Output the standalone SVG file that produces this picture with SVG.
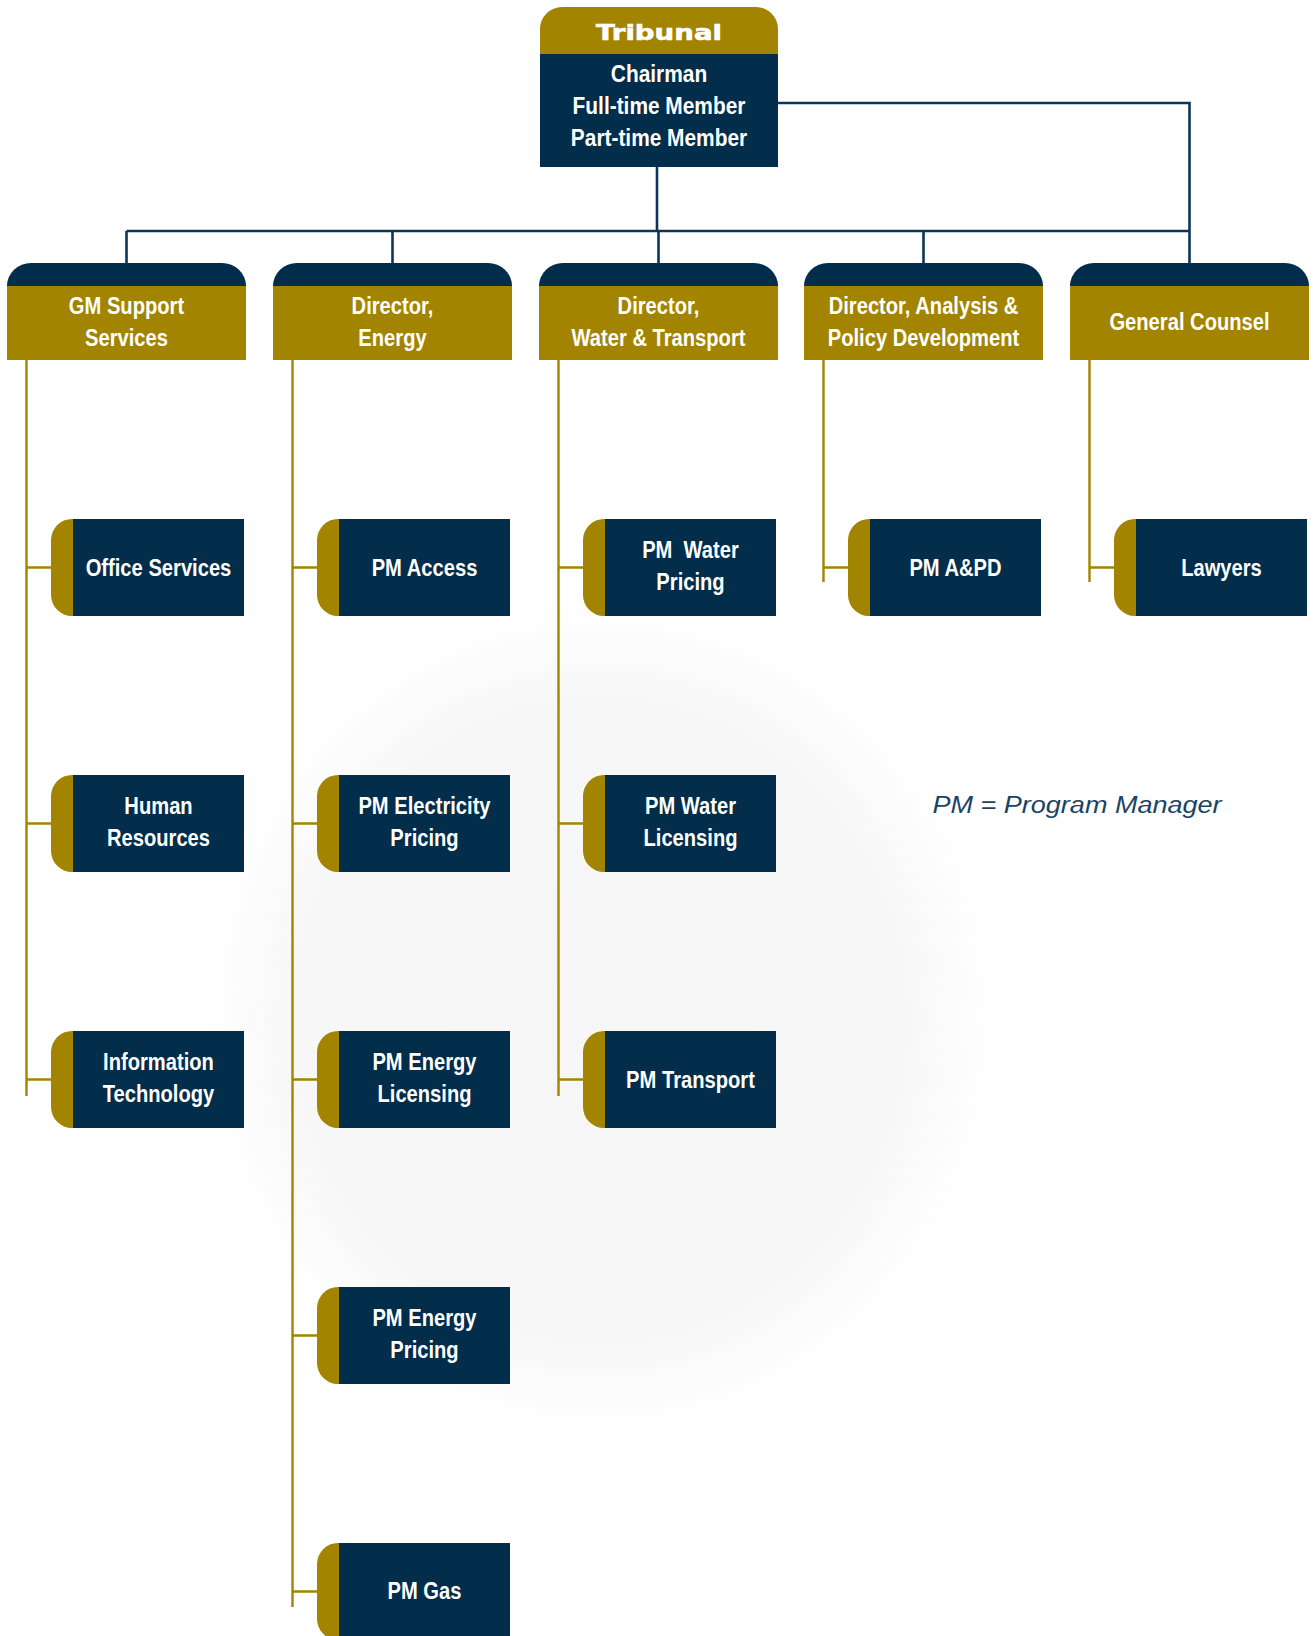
<svg xmlns="http://www.w3.org/2000/svg" width="1313" height="1636" viewBox="0 0 1313 1636">
<defs>
<radialGradient id="bg" cx="0.5" cy="0.5" r="0.5">
<stop offset="0" stop-color="#f6f6f6"/>
<stop offset="0.75" stop-color="#f7f7f7"/>
<stop offset="1" stop-color="#ffffff"/>
</radialGradient>
<style>
.navy{fill:#022d4b}
.gold{fill:#a38400}
.nl{stroke:#0c3656;stroke-width:2.6;fill:none}
.gl{stroke:#a38400;stroke-width:2.4;fill:none}
.t{font-family:"Liberation Sans",Arial,sans-serif;font-weight:bold;font-size:24px;fill:#ffffff;text-anchor:middle}
.trib{font-family:"DejaVu Sans","Liberation Sans",sans-serif;font-weight:bold;font-size:21px;fill:#ffffff;text-anchor:middle;stroke:#ffffff;stroke-width:0.6}
.note{font-family:"Liberation Sans",Arial,sans-serif;font-style:italic;font-size:23px;fill:#1a4466}
</style>
</defs>
<rect x="0" y="0" width="1313" height="1636" fill="#ffffff"/>
<ellipse cx="600" cy="1020" rx="400" ry="420" fill="url(#bg)"/>

<g id="connectors">
<path class="nl" d="M657,167 V231 M126.5,231 H1189.5 M126.5,231 V263 M392.5,231 V263 M658.5,231 V263 M923.5,231 V263 M778,103 H1189.5 V263"/>
<path class="gl" d="M26.5,360 V1096 M26.5,567.5 H52 M26.5,823.5 H52 M26.5,1079.5 H52"/>
<path class="gl" d="M292.5,360 V1607 M292.5,567.5 H318 M292.5,823.5 H318 M292.5,1079.5 H318 M292.5,1335.5 H318 M292.5,1591.5 H318"/>
<path class="gl" d="M558.5,360 V1096 M558.5,567.5 H584 M558.5,823.5 H584 M558.5,1079.5 H584"/>
<path class="gl" d="M823.5,360 V582 M823.5,567.5 H849"/>
<path class="gl" d="M1089.5,360 V582 M1089.5,567.5 H1115"/>
</g>

<g id="tribunal">
<path class="gold" d="M540,54 V29 A22,22 0 0 1 562,7 H756 A22,22 0 0 1 778,29 V54 Z"/>
<rect class="navy" x="540" y="54" width="238" height="113"/>
<text class="trib" x="659" y="40" textLength="126" lengthAdjust="spacingAndGlyphs">Tribunal</text>
<text class="t" transform="translate(659 82) scale(0.87 1)">Chairman</text>
<text class="t" transform="translate(659 114) scale(0.87 1)">Full-time Member</text>
<text class="t" transform="translate(659 146) scale(0.87 1)">Part-time Member</text>
</g>

<g id="gm-support">
<path class="navy" d="M7,286 A24,23 0 0 1 31,263 H222 A24,23 0 0 1 246,286 Z"/>
<rect class="gold" x="7" y="286" width="239" height="74"/>
<text class="t" transform="translate(126.5 313.5) scale(0.84 1)">GM Support</text>
<text class="t" transform="translate(126.5 345.5) scale(0.84 1)">Services</text>
</g>
<g id="director-energy">
<path class="navy" d="M273,286 A24,23 0 0 1 297,263 H488 A24,23 0 0 1 512,286 Z"/>
<rect class="gold" x="273" y="286" width="239" height="74"/>
<text class="t" transform="translate(392.5 313.5) scale(0.84 1)">Director,</text>
<text class="t" transform="translate(392.5 345.5) scale(0.84 1)">Energy</text>
</g>
<g id="director-water">
<path class="navy" d="M539,286 A24,23 0 0 1 563,263 H754 A24,23 0 0 1 778,286 Z"/>
<rect class="gold" x="539" y="286" width="239" height="74"/>
<text class="t" transform="translate(658.5 313.5) scale(0.84 1)">Director,</text>
<text class="t" transform="translate(658.5 345.5) scale(0.84 1)">Water &amp; Transport</text>
</g>
<g id="director-analysis">
<path class="navy" d="M804,286 A24,23 0 0 1 828,263 H1019 A24,23 0 0 1 1043,286 Z"/>
<rect class="gold" x="804" y="286" width="239" height="74"/>
<text class="t" transform="translate(923.5 313.5) scale(0.84 1)">Director, Analysis &amp;</text>
<text class="t" transform="translate(923.5 345.5) scale(0.84 1)">Policy Development</text>
</g>
<g id="general-counsel">
<path class="navy" d="M1070,286 A24,23 0 0 1 1094,263 H1285 A24,23 0 0 1 1309,286 Z"/>
<rect class="gold" x="1070" y="286" width="239" height="74"/>
<text class="t" transform="translate(1189.5 329.5) scale(0.84 1)">General Counsel</text>
</g>

<g id="office-services">
<rect class="gold" x="51" y="519" width="44" height="97" rx="21"/>
<rect class="navy" x="73" y="519" width="171" height="97"/>
<text class="t" transform="translate(158.5 575.5) scale(0.84 1)">Office Services</text>
</g>
<g id="human-resources">
<rect class="gold" x="51" y="775" width="44" height="97" rx="21"/>
<rect class="navy" x="73" y="775" width="171" height="97"/>
<text class="t" transform="translate(158.5 813.5) scale(0.84 1)">Human</text>
<text class="t" transform="translate(158.5 845.5) scale(0.84 1)">Resources</text>
</g>
<g id="information-technology">
<rect class="gold" x="51" y="1031" width="44" height="97" rx="21"/>
<rect class="navy" x="73" y="1031" width="171" height="97"/>
<text class="t" transform="translate(158.5 1069.5) scale(0.84 1)">Information</text>
<text class="t" transform="translate(158.5 1101.5) scale(0.84 1)">Technology</text>
</g>

<g id="pm-access">
<rect class="gold" x="317" y="519" width="44" height="97" rx="21"/>
<rect class="navy" x="339" y="519" width="171" height="97"/>
<text class="t" transform="translate(424.5 575.5) scale(0.84 1)">PM Access</text>
</g>
<g id="pm-electricity-pricing">
<rect class="gold" x="317" y="775" width="44" height="97" rx="21"/>
<rect class="navy" x="339" y="775" width="171" height="97"/>
<text class="t" transform="translate(424.5 813.5) scale(0.84 1)">PM Electricity</text>
<text class="t" transform="translate(424.5 845.5) scale(0.84 1)">Pricing</text>
</g>
<g id="pm-energy-licensing">
<rect class="gold" x="317" y="1031" width="44" height="97" rx="21"/>
<rect class="navy" x="339" y="1031" width="171" height="97"/>
<text class="t" transform="translate(424.5 1069.5) scale(0.84 1)">PM Energy</text>
<text class="t" transform="translate(424.5 1101.5) scale(0.84 1)">Licensing</text>
</g>
<g id="pm-energy-pricing">
<rect class="gold" x="317" y="1287" width="44" height="97" rx="21"/>
<rect class="navy" x="339" y="1287" width="171" height="97"/>
<text class="t" transform="translate(424.5 1325.5) scale(0.84 1)">PM Energy</text>
<text class="t" transform="translate(424.5 1357.5) scale(0.84 1)">Pricing</text>
</g>
<g id="pm-gas">
<rect class="gold" x="317" y="1543" width="44" height="97" rx="21"/>
<rect class="navy" x="339" y="1543" width="171" height="97"/>
<text class="t" transform="translate(424.5 1598.5) scale(0.84 1)">PM Gas</text>
</g>

<g id="pm-water-pricing">
<rect class="gold" x="583" y="519" width="44" height="97" rx="21"/>
<rect class="navy" x="605" y="519" width="171" height="97"/>
<text class="t" transform="translate(690.5 557.5) scale(0.84 1)" xml:space="preserve">PM  Water</text>
<text class="t" transform="translate(690.5 589.5) scale(0.84 1)">Pricing</text>
</g>
<g id="pm-water-licensing">
<rect class="gold" x="583" y="775" width="44" height="97" rx="21"/>
<rect class="navy" x="605" y="775" width="171" height="97"/>
<text class="t" transform="translate(690.5 813.5) scale(0.84 1)">PM Water</text>
<text class="t" transform="translate(690.5 845.5) scale(0.84 1)">Licensing</text>
</g>
<g id="pm-transport">
<rect class="gold" x="583" y="1031" width="44" height="97" rx="21"/>
<rect class="navy" x="605" y="1031" width="171" height="97"/>
<text class="t" transform="translate(690.5 1087.5) scale(0.84 1)">PM Transport</text>
</g>

<g id="pm-apd">
<rect class="gold" x="848" y="519" width="44" height="97" rx="21"/>
<rect class="navy" x="870" y="519" width="171" height="97"/>
<text class="t" transform="translate(955.5 575.5) scale(0.84 1)">PM A&amp;PD</text>
</g>

<g id="lawyers">
<rect class="gold" x="1114" y="519" width="44" height="97" rx="21"/>
<rect class="navy" x="1136" y="519" width="171" height="97"/>
<text class="t" transform="translate(1221.5 575.5) scale(0.84 1)">Lawyers</text>
</g>

<text class="note" x="932.5" y="813" textLength="289" lengthAdjust="spacingAndGlyphs">PM = Program Manager</text>
</svg>
